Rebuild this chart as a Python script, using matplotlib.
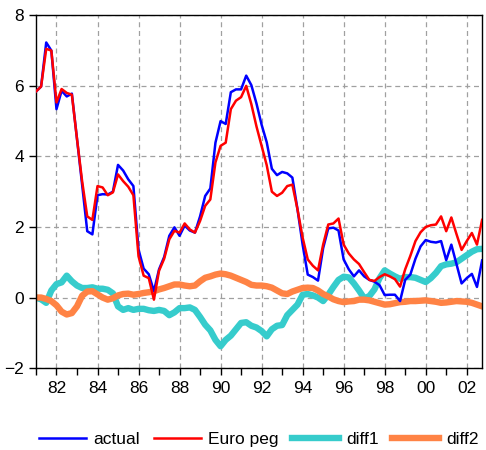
import numpy as np
import matplotlib.pyplot as plt
from matplotlib.ticker import MultipleLocator, FuncFormatter

plt.rcParams['font.family'] = ['Liberation Sans', 'DejaVu Sans']

# quarterly data, 1981Q1 - 2002Q4
start_year = 1981

actual = [
    5.84, 5.98, 7.23, 7.00,   # 1981
    5.34, 5.86, 5.70, 5.78,   # 1982
    4.50, 3.20, 1.88, 1.79,   # 1983
    2.90, 2.93, 2.92, 3.00,   # 1984
    3.76, 3.60, 3.35, 3.16,   # 1985
    1.36, 0.82, 0.66, 0.18,   # 1986
    0.80, 1.15, 1.75, 1.99,   # 1987
    1.75, 2.04, 1.90, 1.84,   # 1988
    2.30, 2.88, 3.09, 4.39,   # 1989
    5.00, 4.92, 5.82, 5.90,   # 1990
    5.90, 6.29, 6.02, 5.50,   # 1991
    4.90, 4.40, 3.65, 3.47,   # 1992
    3.56, 3.52, 3.40, 2.50,   # 1993
    1.50, 0.65, 0.58, 0.48,   # 1994
    1.40, 1.96, 1.98, 1.90,   # 1995
    1.08, 0.80, 0.60, 0.77,   # 1996
    0.60, 0.50, 0.45, 0.35,   # 1997
    0.07, 0.08, 0.08, -0.10,  # 1998
    0.50, 0.65, 1.10, 1.45,   # 1999
    1.63, 1.58, 1.56, 1.60,   # 2000
    1.06, 1.50, 0.95, 0.40,   # 2001
    0.55, 0.67, 0.30, 1.05,   # 2002
]

euro_peg = [
    5.84, 5.98, 7.05, 7.00,
    5.53, 5.91, 5.80, 5.75,
    4.50, 3.30, 2.30, 2.20,
    3.16, 3.12, 2.90, 2.98,
    3.49, 3.30, 3.14, 2.90,
    1.17, 0.62, 0.55, -0.06,
    0.76, 1.10, 1.65, 1.89,
    1.84, 2.10, 1.93, 1.84,
    2.17, 2.60, 2.78, 3.83,
    4.30, 4.39, 5.34, 5.58,
    5.68, 6.00, 5.48, 4.85,
    4.30, 3.75, 3.00, 2.88,
    2.97, 3.16, 3.20, 2.50,
    1.70, 1.08, 0.90, 0.77,
    1.50, 2.07, 2.10, 2.24,
    1.50, 1.25, 1.08, 0.95,
    0.72, 0.50, 0.47, 0.58,
    0.66, 0.60, 0.52, 0.31,
    0.80, 1.18, 1.60, 1.85,
    2.00, 2.05, 2.07, 2.30,
    1.88, 2.27, 1.80, 1.35,
    1.60, 1.83, 1.50, 2.20,
]

diff1 = [
    0.00, -0.05, -0.15, 0.20,
    0.38, 0.43, 0.62, 0.46,
    0.34, 0.27, 0.27, 0.29,
    0.25, 0.25, 0.22, 0.12,
    -0.25, -0.35, -0.30, -0.35,
    -0.32, -0.32, -0.36, -0.38,
    -0.35, -0.38, -0.50, -0.42,
    -0.30, -0.30, -0.28, -0.35,
    -0.55, -0.77, -0.93, -1.20,
    -1.38, -1.20, -1.08, -0.90,
    -0.72, -0.70, -0.80, -0.85,
    -0.95, -1.10, -0.90, -0.80,
    -0.78, -0.50, -0.35, -0.20,
    0.08, 0.10, 0.06, 0.00,
    -0.10, 0.08, 0.30, 0.50,
    0.59, 0.57, 0.40, 0.20,
    -0.02, 0.04, 0.23, 0.55,
    0.77, 0.68, 0.60, 0.53,
    0.58, 0.58, 0.56, 0.50,
    0.44, 0.55, 0.70, 0.89,
    0.94, 0.96, 1.00, 1.10,
    1.20, 1.30, 1.37, 1.38,
]

diff2 = [
    0.00, 0.00, -0.04, -0.10,
    -0.22, -0.40, -0.48, -0.44,
    -0.25, 0.05, 0.17, 0.18,
    0.09, 0.00, -0.06, -0.02,
    0.06, 0.10, 0.11, 0.08,
    0.10, 0.13, 0.15, 0.18,
    0.23, 0.27, 0.32, 0.37,
    0.37, 0.34, 0.32, 0.34,
    0.46, 0.56, 0.60, 0.65,
    0.68, 0.66, 0.62, 0.56,
    0.50, 0.44, 0.36, 0.34,
    0.34, 0.32, 0.28, 0.20,
    0.12, 0.10, 0.17, 0.22,
    0.27, 0.28, 0.27, 0.20,
    0.10, 0.03, -0.05, -0.10,
    -0.13, -0.11, -0.10, -0.06,
    -0.06, -0.08, -0.12, -0.16,
    -0.20, -0.19, -0.16, -0.13,
    -0.12, -0.10, -0.10, -0.09,
    -0.08, -0.10, -0.12, -0.15,
    -0.14, -0.12, -0.10, -0.11,
    -0.12, -0.15, -0.20, -0.25,
]

t = start_year + np.arange(len(actual)) / 4.0

fig = plt.figure(figsize=(4.86, 4.5), dpi=100)
ax = fig.add_axes([0.074, 0.182, 0.918, 0.784])

ax.plot(t, diff1, color='#36CCCC', linewidth=4.6, label='diff1', zorder=2)
ax.plot(t, diff2, color='#FF8345', linewidth=4.6, label='diff2', zorder=2)
ax.plot(t, actual, color='#0000FF', linewidth=1.8, label='actual', zorder=3)
ax.plot(t, euro_peg, color='#FF0000', linewidth=1.8, label='Euro peg', zorder=4)

ax.set_xlim(start_year, t[-1])
ax.set_ylim(-2, 8)

ax.xaxis.set_major_locator(MultipleLocator(2))
ax.xaxis.set_minor_locator(MultipleLocator(1))
ax.xaxis.set_major_formatter(FuncFormatter(lambda v, p: '%02d' % (int(round(v)) % 100)))
ax.yaxis.set_major_locator(MultipleLocator(2))

ax.tick_params(axis='both', which='both', direction='out', length=5, width=1,
               labelsize=12.5, color='black')
ax.tick_params(axis='x', which='both', length=5, pad=4)
ax.tick_params(top=False, right=False)

ax.grid(True, which='major', linestyle=(0, (4, 3)), color='#A0A0A0', linewidth=0.9)
ax.set_axisbelow(True)

for s in ax.spines.values():
    s.set_linewidth(1.0)
    s.set_color('black')

handles, labels = ax.get_legend_handles_labels()
order = [2, 3, 0, 1]
fig.legend([handles[i] for i in order], [labels[i] for i in order],
           loc='center', bbox_to_anchor=(259 / 486, 0.024), ncol=4,
           frameon=False, fontsize=12.5, handlelength=2.7,
           handletextpad=0.4, columnspacing=0.8, borderpad=0)

fig.savefig('out.png', dpi=100)
